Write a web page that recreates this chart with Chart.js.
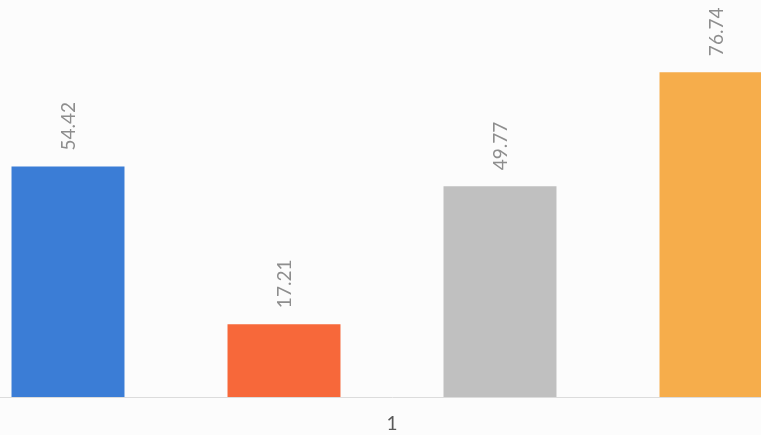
<!DOCTYPE html>
<html>
<head>
<meta charset="utf-8">
<script src="https://cdn.jsdelivr.net/npm/chart.js@4/dist/chart.umd.min.js"></script>
<style>
  html, body { margin: 0; padding: 0; background: #fcfcfc; overflow: hidden; }
  #wrap { position: absolute; left: -40px; top: 0; width: 864px; height: 435px; }
</style>
</head>
<body>
<div id="wrap"><canvas id="chart"></canvas></div>
<script>
// chart data
const categories = ['1'];
const seriesNames = ['Series 1', 'Series 2', 'Series 3', 'Series 4'];
const seriesValues = [54.42, 17.21, 49.77, 76.74];
const seriesColors = ['#3b7dd6', '#f7683a', '#c0c0c0', '#f6ad4b'];

// rotated value labels above each bar
const valueLabels = {
  id: 'valueLabels',
  afterDatasetsDraw(chart) {
    const ctx = chart.ctx;
    ctx.save();
    ctx.font = '19px Lato, "Open Sans", sans-serif';
    ctx.fillStyle = '#8e8e8e';
    ctx.textAlign = 'left';
    ctx.textBaseline = 'middle';
    chart.data.datasets.forEach((ds, i) => {
      chart.getDatasetMeta(i).data.forEach((bar, j) => {
        ctx.save();
        ctx.translate(bar.x + 1, bar.y - 16);
        ctx.rotate(-Math.PI / 2);
        ctx.fillText(ds.data[j].toFixed(2), 0, 0);
        ctx.restore();
      });
    });
    ctx.restore();
  }
};

new Chart(document.getElementById('chart'), {
  type: 'bar',
  data: {
    labels: categories,
    datasets: seriesValues.map((v, i) => ({
      label: seriesNames[i],
      data: [v],
      backgroundColor: seriesColors[i],
      barPercentage: 0.523,
      categoryPercentage: 1.0,
    })),
  },
  options: {
    responsive: true,
    maintainAspectRatio: false,
    animation: false,
    layout: { padding: { top: 16, left: 0, right: 0, bottom: 0 } },
    plugins: { legend: { display: false }, tooltip: { enabled: false } },
    scales: {
      y: { display: false, min: 0, max: 90 },
      x: {
        grid: { display: false, drawTicks: false },
        border: { display: true, color: '#dcdcdc', width: 1 },
        ticks: { color: '#595959', font: { family: 'Lato, "Open Sans", sans-serif', size: 19 }, padding: 15 },
        afterFit(scale) { scale.height = 38; },
      },
    },
  },
  plugins: [valueLabels],
});
</script>
</body>
</html>
